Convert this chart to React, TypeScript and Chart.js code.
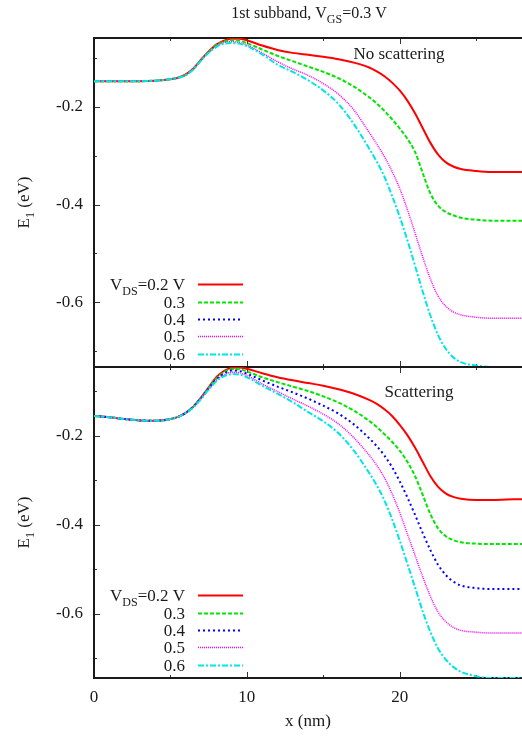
import React, { useEffect, useRef } from 'react';
import { Chart, registerables } from 'chart.js';

Chart.register(...registerables);

// ---------- data ----------
const X_NM = [0, 1, 2, 3, 4, 5, 5.5, 6, 6.5, 7, 7.5, 8, 8.5, 9, 9.5, 10, 11, 12, 13, 14, 15, 16, 17, 18, 18.5, 19, 19.5, 20, 20.5, 21, 21.5, 22, 22.5, 23, 23.5, 24, 25, 26, 27, 28];

const VDS_LABELS = ['0.2', '0.3', '0.4', '0.5', '0.6'];

// Top panel: no scattering (the 0.4 V curve is not drawn in the reference)
const NOSCAT_02 = [-0.147, -0.147, -0.147, -0.147, -0.146, -0.143, -0.140, -0.133, -0.121, -0.103, -0.086, -0.072, -0.064, -0.060, -0.060, -0.063, -0.074, -0.083, -0.089, -0.093, -0.097, -0.102, -0.109, -0.119, -0.127, -0.137, -0.150, -0.166, -0.187, -0.213, -0.243, -0.273, -0.297, -0.313, -0.322, -0.327, -0.331, -0.333, -0.333, -0.333];
const NOSCAT_03 = [-0.147, -0.147, -0.147, -0.147, -0.146, -0.143, -0.140, -0.134, -0.122, -0.104, -0.087, -0.073, -0.066, -0.063, -0.064, -0.069, -0.082, -0.095, -0.106, -0.117, -0.128, -0.141, -0.158, -0.180, -0.193, -0.208, -0.225, -0.244, -0.265, -0.292, -0.335, -0.377, -0.402, -0.415, -0.422, -0.427, -0.431, -0.433, -0.433, -0.433];
const NOSCAT_04: (number | null)[] = [];
const NOSCAT_05 = [-0.147, -0.147, -0.147, -0.147, -0.146, -0.143, -0.140, -0.134, -0.122, -0.104, -0.088, -0.075, -0.068, -0.066, -0.068, -0.073, -0.089, -0.107, -0.122, -0.135, -0.152, -0.174, -0.206, -0.252, -0.276, -0.302, -0.332, -0.367, -0.410, -0.458, -0.507, -0.552, -0.587, -0.608, -0.620, -0.626, -0.631, -0.633, -0.633, -0.633];
const NOSCAT_06 = [-0.147, -0.147, -0.147, -0.147, -0.146, -0.143, -0.140, -0.135, -0.123, -0.105, -0.089, -0.077, -0.070, -0.069, -0.070, -0.075, -0.092, -0.113, -0.128, -0.145, -0.166, -0.194, -0.235, -0.285, -0.312, -0.343, -0.382, -0.425, -0.473, -0.525, -0.578, -0.627, -0.667, -0.695, -0.713, -0.723, -0.730, -0.733, -0.733, -0.733];

// Bottom panel: scattering
const SCAT_02 = [-0.155, -0.158, -0.162, -0.165, -0.166, -0.162, -0.157, -0.148, -0.134, -0.114, -0.091, -0.068, -0.054, -0.047, -0.046, -0.049, -0.059, -0.068, -0.075, -0.081, -0.087, -0.095, -0.105, -0.119, -0.128, -0.140, -0.155, -0.175, -0.198, -0.226, -0.258, -0.290, -0.314, -0.329, -0.337, -0.341, -0.344, -0.344, -0.343, -0.342];
const SCAT_03 = [-0.155, -0.158, -0.162, -0.165, -0.166, -0.162, -0.157, -0.148, -0.134, -0.115, -0.092, -0.071, -0.057, -0.050, -0.050, -0.055, -0.068, -0.079, -0.089, -0.099, -0.111, -0.125, -0.143, -0.166, -0.180, -0.196, -0.213, -0.233, -0.258, -0.290, -0.332, -0.375, -0.407, -0.425, -0.434, -0.439, -0.442, -0.443, -0.443, -0.443];
const SCAT_04 = [-0.155, -0.158, -0.162, -0.165, -0.166, -0.162, -0.157, -0.148, -0.134, -0.115, -0.093, -0.073, -0.060, -0.053, -0.054, -0.060, -0.075, -0.089, -0.102, -0.116, -0.132, -0.150, -0.174, -0.205, -0.223, -0.244, -0.270, -0.302, -0.338, -0.377, -0.418, -0.456, -0.489, -0.512, -0.527, -0.536, -0.542, -0.544, -0.544, -0.544];
const SCAT_05 = [-0.155, -0.158, -0.162, -0.165, -0.166, -0.162, -0.157, -0.148, -0.135, -0.116, -0.094, -0.075, -0.063, -0.057, -0.058, -0.064, -0.083, -0.100, -0.117, -0.133, -0.151, -0.173, -0.204, -0.243, -0.266, -0.294, -0.330, -0.372, -0.420, -0.468, -0.516, -0.560, -0.595, -0.617, -0.630, -0.637, -0.641, -0.643, -0.643, -0.643];
const SCAT_06 = [-0.155, -0.158, -0.162, -0.165, -0.166, -0.162, -0.157, -0.149, -0.136, -0.117, -0.096, -0.077, -0.066, -0.061, -0.062, -0.068, -0.087, -0.105, -0.124, -0.146, -0.167, -0.194, -0.233, -0.283, -0.311, -0.345, -0.387, -0.435, -0.487, -0.540, -0.594, -0.640, -0.677, -0.702, -0.719, -0.730, -0.740, -0.744, -0.744, -0.744];

const X_MAJOR = [0, 10, 20];
const X_MINOR = [5, 15, 25];
const Y_MAJOR = [-0.6, -0.4, -0.2];
const Y_MINOR = [-0.7, -0.5, -0.3, -0.1];

// ---------- styles ----------
const FONT = '"Liberation Serif", "Times New Roman", serif';
const TEXT = '#1a1a1a';
const STYLES = [
  { color: '#ff0000', dash: [] as number[], width: 2 },
  { color: '#00e600', dash: [4, 2], width: 2 },
  { color: '#0000ff', dash: [2, 3], width: 2 },
  { color: '#ff00ff', dash: [1, 1], width: 1.5 },
  { color: '#00e5e5', dash: [6, 2, 2, 2], width: 2 },
];

type Seg = { t: string; sub?: boolean };

function drawRich(ctx: CanvasRenderingContext2D, segs: Seg[], x: number, y: number, align: 'left' | 'center' | 'right', size: number) {
  const main = `${size}px ${FONT}`;
  const subf = `${Math.round(size * 0.72)}px ${FONT}`;
  const widths = segs.map((s) => {
    ctx.font = s.sub ? subf : main;
    return ctx.measureText(s.t).width;
  });
  const total = widths.reduce((a, b) => a + b, 0);
  let cx = align === 'left' ? x : align === 'center' ? x - total / 2 : x - total;
  ctx.textAlign = 'left';
  ctx.textBaseline = 'alphabetic';
  ctx.fillStyle = TEXT;
  segs.forEach((s, i) => {
    ctx.font = s.sub ? subf : main;
    ctx.fillText(s.t, cx, s.sub ? y + size * 0.3 : y);
    cx += widths[i];
  });
}

type Panel = {
  series: (number | null)[][];
  yMin: number;
  yMax: number;
  padTop: number;
  padBottom: number;
  bottomAxis: boolean;
  label: string;
  labelX: number;
  labelY: number;
  legendRows: number[];
  showTitle: boolean;
  canvasTop: number;
};

const framePlugin = {
  id: 'frame',
  beforeDatasetsDraw(chart: any) {
    const { ctx, chartArea: a, scales } = chart;
    const xs = scales.x;
    const ys = scales.y;
    ctx.save();
    ctx.strokeStyle = '#333';
    ctx.lineWidth = 1;
    const seg = (x1: number, y1: number, x2: number, y2: number) => {
      ctx.beginPath();
      ctx.moveTo(x1, y1);
      ctx.lineTo(x2, y2);
      ctx.stroke();
    };
    X_MAJOR.forEach((v) => {
      const px = Math.round(xs.getPixelForValue(v)) + 0.5;
      seg(px, a.top, px, a.top + 6);
      seg(px, a.bottom, px, a.bottom - 6);
    });
    X_MINOR.forEach((v) => {
      const px = Math.round(xs.getPixelForValue(v)) + 0.5;
      seg(px, a.top, px, a.top + 3);
      seg(px, a.bottom, px, a.bottom - 3);
    });
    Y_MAJOR.forEach((v) => {
      const py = Math.round(ys.getPixelForValue(v)) + 0.5;
      seg(a.left, py, a.left + 6, py);
    });
    Y_MINOR.forEach((v) => {
      const py = Math.round(ys.getPixelForValue(v)) + 0.5;
      seg(a.left, py, a.left + 3, py);
    });
    ctx.strokeStyle = '#1a1a1a';
    ctx.lineWidth = 2;
    ctx.beginPath();
    ctx.moveTo(a.right + 2, a.top);
    ctx.lineTo(a.left, a.top);
    ctx.lineTo(a.left, a.bottom);
    ctx.lineTo(a.right + 2, a.bottom);
    ctx.stroke();
    ctx.restore();
  },
};

function makeTextPlugin(p: Panel) {
  return {
    id: 'panelText',
    afterDraw(chart: any) {
      const { ctx, chartArea: a } = chart;
      const off = p.canvasTop;
      ctx.save();
      if (p.showTitle) {
        drawRich(ctx, [{ t: '1st subband, V' }, { t: 'GS', sub: true }, { t: '=0.3 V' }], 309, 18 - off, 'center', 16);
      }
      drawRich(ctx, [{ t: p.label }], p.labelX, p.labelY - off, 'center', 17);
      ctx.save();
      ctx.translate(29, (a.top + a.bottom) / 2);
      ctx.rotate(-Math.PI / 2);
      drawRich(ctx, [{ t: 'E' }, { t: '1', sub: true }, { t: ' (eV)' }], 0, 0, 'center', 17);
      ctx.restore();
      p.legendRows.forEach((rowY, i) => {
        const y = rowY - off;
        const segs: Seg[] = i === 0 ? [{ t: 'V' }, { t: 'DS', sub: true }, { t: '=' + VDS_LABELS[0] + ' V' }] : [{ t: VDS_LABELS[i] }];
        drawRich(ctx, segs, 185, y + 6, 'right', 17);
        const st = STYLES[i];
        ctx.strokeStyle = st.color;
        ctx.lineWidth = st.width;
        ctx.setLineDash(st.dash);
        ctx.beginPath();
        ctx.moveTo(198, y + 0.5);
        ctx.lineTo(243, y + 0.5);
        ctx.stroke();
        ctx.setLineDash([]);
      });
      ctx.restore();
    },
  };
}

function buildConfig(p: Panel): any {
  return {
    type: 'line',
    data: {
      datasets: p.series.map((vals, i) => ({
        label: 'VDS=' + VDS_LABELS[i] + ' V',
        data: vals.length ? X_NM.map((x, j) => ({ x, y: vals[j] })) : [],
        borderColor: STYLES[i].color,
        borderWidth: STYLES[i].width,
        borderDash: STYLES[i].dash,
        pointRadius: 0,
        fill: false,
        cubicInterpolationMode: 'monotone',
        order: 4 - i,
      })),
    },
    options: {
      responsive: false,
      animation: false,
      events: [],
      layout: { padding: { top: p.padTop, bottom: p.padBottom, left: 0, right: 0 } },
      plugins: { legend: { display: false }, tooltip: { enabled: false }, title: { display: false } },
      scales: {
        x: {
          type: 'linear',
          min: 0,
          max: 28,
          afterBuildTicks: (s: any) => {
            s.ticks = [...X_MAJOR, ...X_MINOR].sort((a, b) => a - b).map((v) => ({ value: v }));
          },
          afterFit: (s: any) => {
            s.height = p.bottomAxis ? 58 : 0;
            s.paddingLeft = 0;
            s.paddingRight = 0;
            s.paddingTop = 0;
            s.paddingBottom = 0;
          },
          grid: { display: false, drawTicks: false },
          border: { display: false },
          ticks: {
            display: p.bottomAxis,
            padding: 9,
            maxRotation: 0,
            autoSkip: false,
            color: TEXT,
            font: { family: FONT, size: 17 },
            callback: (v: number) => (X_MAJOR.includes(v) ? String(v) : ''),
          },
          title: {
            display: p.bottomAxis,
            text: 'x (nm)',
            color: TEXT,
            font: { family: FONT, size: 17 },
            padding: { top: 0, bottom: 4 },
          },
        },
        y: {
          type: 'linear',
          min: p.yMin,
          max: p.yMax,
          afterBuildTicks: (s: any) => {
            s.ticks = [...Y_MINOR, ...Y_MAJOR].sort((a, b) => a - b).map((v) => ({ value: v }));
          },
          afterFit: (s: any) => {
            s.width = 94;
            s.paddingTop = 0;
            s.paddingBottom = 0;
            s.paddingLeft = 0;
            s.paddingRight = 0;
          },
          grid: { display: false, drawTicks: false },
          border: { display: false },
          ticks: {
            padding: 11,
            autoSkip: false,
            color: TEXT,
            font: { family: FONT, size: 17 },
            callback: (v: number) => (Y_MAJOR.some((m) => Math.abs(m - v) < 1e-6) ? v.toFixed(1) : ''),
          },
        },
      },
    },
    plugins: [framePlugin, makeTextPlugin(p)],
  };
}

const TOP_PANEL: Panel = {
  series: [NOSCAT_02, NOSCAT_03, NOSCAT_04, NOSCAT_05, NOSCAT_06],
  yMin: -0.733,
  yMax: -0.0585,
  padTop: 38,
  padBottom: 8,
  bottomAxis: false,
  label: 'No scattering',
  labelX: 399,
  labelY: 59,
  legendRows: [284, 302, 319, 336, 354],
  showTitle: true,
  canvasTop: 0,
};

const BOTTOM_PANEL: Panel = {
  series: [SCAT_02, SCAT_03, SCAT_04, SCAT_05, SCAT_06],
  yMin: -0.744,
  yMax: -0.045,
  padTop: 7,
  padBottom: 0,
  bottomAxis: true,
  label: 'Scattering',
  labelX: 419,
  labelY: 397,
  legendRows: [595, 613, 630, 647, 665],
  showTitle: false,
  canvasTop: 360,
};

function PanelChart({ panel, height }: { panel: Panel; height: number }) {
  const ref = useRef<HTMLCanvasElement>(null);
  useEffect(() => {
    if (!ref.current) return;
    const chart = new Chart(ref.current, buildConfig(panel));
    return () => chart.destroy();
  }, [panel]);
  return (
    <canvas
      ref={ref}
      width={522}
      height={height}
      style={{ position: 'absolute', left: 0, top: panel.canvasTop, width: 522, height }}
    />
  );
}

export default function App() {
  return (
    <div style={{ position: 'absolute', left: 0, top: 0, width: 522, height: 736, background: '#fff', overflow: 'hidden' }}>
      <PanelChart panel={TOP_PANEL} height={375} />
      <PanelChart panel={BOTTOM_PANEL} height={376} />
    </div>
  );
}
